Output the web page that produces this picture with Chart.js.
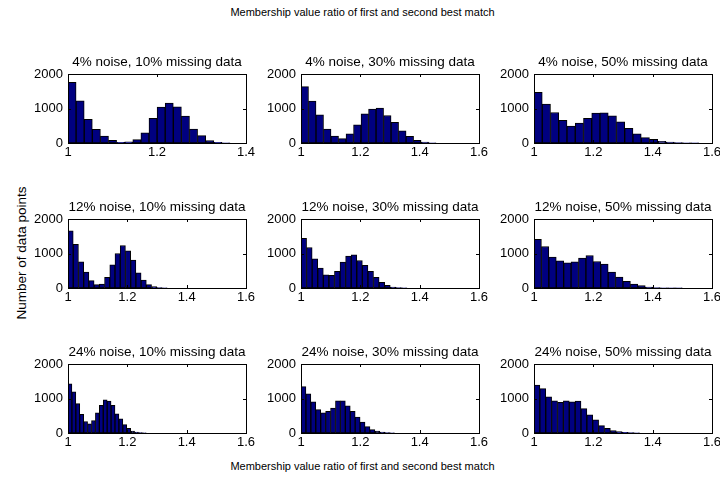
<!DOCTYPE html>
<html>
<head>
<meta charset="utf-8">
<script src="https://cdn.jsdelivr.net/npm/chart.js@4/dist/chart.umd.min.js"></script>
<style>
  body { margin: 0; width: 720px; height: 488px; overflow: hidden; background: #fff; position: relative; font-family: "Liberation Sans", Arial, sans-serif; }
  canvas { position: absolute; }
  .label { position: absolute; font-size: 11px; color: #000; white-space: nowrap; }
</style>
</head>
<body>
<div class="label" id="mainTitle" style="left:0;width:725px;top:6px;text-align:center;">Membership value ratio of first and second best match</div>
<div class="label" id="xLabel" style="left:0;width:725px;top:460px;text-align:center;">Membership value ratio of first and second best match</div>
<div class="label" id="yLabel" style="left:21px;top:253px;font-size:13.5px;transform:translate(-50%,-50%) rotate(-90deg);">Number of data points</div>
<script>
// Panel titles (row by row)
const panelTitles = [
  "4% noise, 10% missing data", "4% noise, 30% missing data", "4% noise, 50% missing data",
  "12% noise, 10% missing data", "12% noise, 30% missing data", "12% noise, 50% missing data",
  "24% noise, 10% missing data", "24% noise, 30% missing data", "24% noise, 50% missing data"
];

// Histogram bin widths (bins start at 1)
const binWidths = [0.0182, 0.0253, 0.0278, 0.0176, 0.0188, 0.025, 0.0132, 0.0166, 0.0198];

// Upper end of each x axis
const xMax = [1.4, 1.6, 1.6, 1.6, 1.6, 1.6, 1.6, 1.6, 1.6];

// Counts per bin
const counts1 = [1760, 1221, 683, 394, 202, 77, 18, 35, 96, 298, 712, 1038, 1154, 1048, 779, 404, 212, 67, 20, 5];
const counts2 = [1635, 1212, 817, 404, 202, 125, 269, 529, 846, 981, 1010, 798, 596, 356, 192, 77, 30, 8];
const counts3 = [1471, 1125, 885, 654, 490, 577, 712, 865, 875, 788, 615, 423, 269, 154, 106, 48, 29, 12, 6, 4];
const counts4 = [1654, 1269, 760, 462, 212, 96, 115, 308, 673, 1000, 1231, 1077, 808, 442, 231, 96, 38, 12, 5];
const counts5 = [1442, 1173, 846, 577, 385, 365, 481, 750, 923, 962, 798, 654, 481, 308, 163, 77, 29, 10, 5];
const counts6 = [1413, 1202, 894, 788, 731, 760, 865, 942, 769, 692, 462, 317, 192, 115, 67, 29, 15, 8, 5, 3];
const counts7 = [1422, 1196, 853, 539, 333, 265, 363, 588, 804, 961, 922, 804, 559, 412, 245, 137, 59, 29, 10, 5];
const counts8 = [1343, 1137, 902, 676, 588, 627, 725, 931, 931, 784, 627, 461, 314, 186, 98, 59, 29, 12, 5];
const counts9 = [1392, 1284, 1049, 931, 892, 931, 902, 922, 706, 529, 382, 216, 137, 69, 39, 20, 10, 5];
const allCounts = [counts1, counts2, counts3, counts4, counts5, counts6, counts7, counts8, counts9];

// Tick values
const yTicks = [0, 1000, 2000];
const xTickStep = 0.2;

// Layout of the 3x3 grid (plot areas)
const plotLefts = [68, 301, 534];
const plotTops = [74, 219, 364];
const plotW = 178;
const plotH = 69;
const padLeft = 40, padTop = 24, padRight = 12, padBottom = 20;

const fontFamily = "'Liberation Sans', Arial, sans-serif";

// Draws the box around the plot and MATLAB-style inward ticks
const boxPlugin = {
  id: "box",
  afterDraw(chart) {
    const ctx = chart.ctx;
    const a = chart.chartArea;
    ctx.save();
    ctx.strokeStyle = "#000";
    ctx.lineWidth = 1;
    ctx.strokeRect(Math.round(a.left) + 0.5, Math.round(a.top) + 0.5, Math.round(a.right - a.left), Math.round(a.bottom - a.top));
    ctx.beginPath();
    chart.scales.x.ticks.forEach(t => {
      let px = Math.round(chart.scales.x.getPixelForValue(t.value)) + 0.5;
      ctx.moveTo(px, a.bottom);
      ctx.lineTo(px, a.bottom - 3);
      ctx.moveTo(px, a.top);
      ctx.lineTo(px, a.top + 3);
    });
    chart.scales.y.ticks.forEach(t => {
      let py = Math.round(chart.scales.y.getPixelForValue(t.value)) + 0.5;
      ctx.moveTo(a.left, py);
      ctx.lineTo(a.left + 3, py);
      ctx.moveTo(a.right, py);
      ctx.lineTo(a.right - 3, py);
    });
    ctx.stroke();
    ctx.restore();
  }
};

function makePanel(i) {
  let row = Math.floor(i / 3);
  let col = i % 3;
  let canvas = document.createElement("canvas");
  canvas.width = padLeft + plotW + padRight;
  canvas.height = padTop + plotH + padBottom;
  canvas.style.left = (plotLefts[col] - padLeft) + "px";
  canvas.style.top = (plotTops[row] - padTop) + "px";
  document.body.appendChild(canvas);

  let w = binWidths[i];
  let points = allCounts[i].map((c, k) => ({ x: 1 + (k + 0.5) * w, y: c }));

  new Chart(canvas.getContext("2d"), {
    type: "bar",
    data: {
      datasets: [{
        data: points,
        backgroundColor: "#000080",
        borderColor: "#000",
        borderWidth: 1,
        borderSkipped: false,
        barPercentage: 1,
        categoryPercentage: 1
      }]
    },
    options: {
      responsive: false,
      animation: false,
      layout: { padding: { left: 0, top: 0, right: padRight, bottom: 0 } },
      plugins: {
        legend: { display: false },
        tooltip: { enabled: false },
        title: {
          display: true,
          text: panelTitles[i],
          fullSize: false,
          color: "#000",
          font: { family: fontFamily, size: 13.5, weight: "normal", lineHeight: 1.2 },
          padding: { top: 4, bottom: padTop - 4 - 13.5 * 1.2 }
        }
      },
      scales: {
        x: {
          type: "linear",
          min: 1,
          max: xMax[i],
          offset: false,
          grid: { display: false, drawTicks: false },
          border: { display: false },
          ticks: {
            stepSize: xTickStep,
            color: "#000",
            padding: 2,
            maxRotation: 0,
            font: { family: fontFamily, size: 13 },
            callback: v => String(Number(v.toFixed(1)))
          },
          afterFit: s => { s.height = padBottom; }
        },
        y: {
          min: yTicks[0],
          max: yTicks[yTicks.length - 1],
          grid: { display: false, drawTicks: false },
          border: { display: false },
          ticks: {
            stepSize: yTicks[1] - yTicks[0],
            color: "#000",
            padding: 5,
            font: { family: fontFamily, size: 13 },
            callback: v => String(v)
          },
          afterFit: s => { s.width = padLeft; }
        }
      }
    },
    plugins: [boxPlugin]
  });
}

for (let i = 0; i < 9; i++) {
  makePanel(i);
}
</script>
</body>
</html>
